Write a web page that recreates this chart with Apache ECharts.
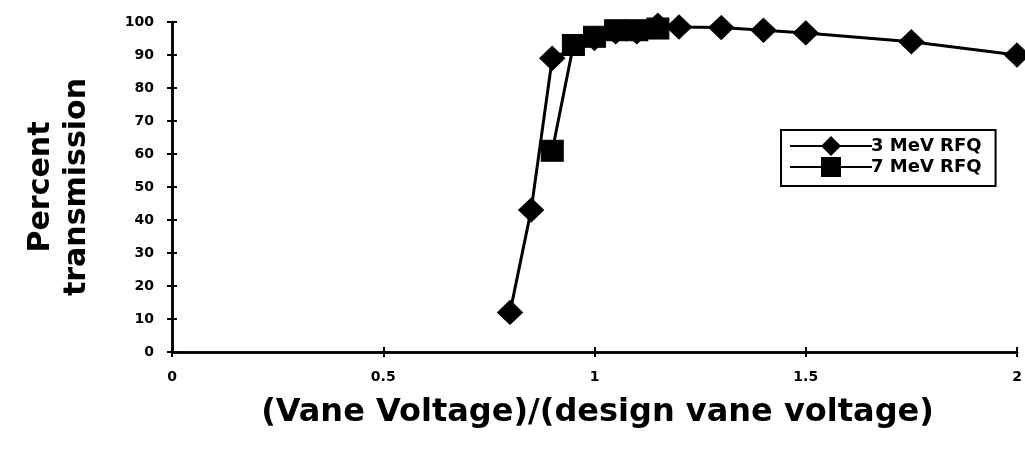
<!DOCTYPE html>
<html>
<head>
<meta charset="utf-8">
<script src="https://cdn.jsdelivr.net/npm/echarts@6/dist/echarts.min.js"></script>
<style>
  html, body { margin: 0; padding: 0; background: #fff; }
  #chart { width: 1025px; height: 450px; }
</style>
</head>
<body>
<div id="chart"></div>
<script>
// Transmission vs. normalized vane voltage for two RFQs
const rfq3Voltage = [0.80, 0.85, 0.90, 1.00, 1.05, 1.10, 1.15, 1.20, 1.30, 1.40, 1.50, 1.75, 2.00];
const rfq3Transmission = [12, 43, 89, 95, 97, 97, 99, 98.5, 98.3, 97.5, 96.7, 94, 90];
const rfq7Voltage = [0.90, 0.95, 1.00, 1.05, 1.10, 1.15];
const rfq7Transmission = [61, 93, 95.5, 97.5, 97.5, 98];
const seriesNames = ['3 MeV RFQ', '7 MeV RFQ'];
const xTicks = [0, 0.5, 1, 1.5, 2];
const yTicks = [0, 10, 20, 30, 40, 50, 60, 70, 80, 90, 100];

const font = '"DejaVu Sans", Verdana, sans-serif';
const ink = '#000';

function pairs(xs, ys) { return xs.map((x, i) => [x, ys[i]]); }

const chart = echarts.init(document.getElementById('chart'), null, { renderer: 'canvas' });

const baseX = {
  type: 'value', min: xTicks[0], max: xTicks[xTicks.length - 1], interval: 0.5,
  splitLine: { show: false },
  axisLine: { show: true, onZero: false, lineStyle: { color: ink, width: 2.5 } }
};
const baseY = {
  type: 'value', min: yTicks[0], max: yTicks[yTicks.length - 1], interval: 10,
  splitLine: { show: false },
  axisLine: { show: true, onZero: false, lineStyle: { color: ink, width: 2.5 } }
};

chart.setOption({
  animation: false,
  backgroundColor: '#fff',
  grid: { left: 172, right: 8, top: 22, bottom: 98, containLabel: false },
  legend: {
    data: seriesNames,
    orient: 'vertical',
    left: 781, top: 130,
    itemWidth: 82, itemHeight: 25, itemGap: 1,
    padding: [6, 14, 9, 8],
    borderColor: ink, borderWidth: 2,
    lineStyle: { width: 2 },
    textStyle: { fontFamily: font, fontWeight: 'bold', fontSize: 18, color: ink, padding: [0, 0, 0, -6] }
  },
  xAxis: [
    Object.assign({}, baseX, {
      position: 'bottom',
      name: '(Vane Voltage)/(design vane voltage)',
      nameLocation: 'middle', nameGap: 45,
      nameTextStyle: { fontFamily: font, fontWeight: 'bold', fontSize: 32, color: ink, padding: [0, 0, 0, 6] },
      axisTick: { show: true, length: 5, lineStyle: { color: ink, width: 2 } },
      axisLabel: {
        fontFamily: font, fontWeight: 'bold', fontSize: 14, color: ink, margin: 18,
        formatter: v => String(v)
      }
    }),
    Object.assign({}, baseX, {
      position: 'bottom',
      axisTick: { show: true, inside: true, length: 5, lineStyle: { color: ink, width: 2 } },
      axisLabel: { show: false }
    })
  ],
  yAxis: [
    Object.assign({}, baseY, {
      position: 'left',
      name: 'Percent\ntransmission',
      nameLocation: 'middle', nameGap: 77, nameRotate: 90,
      nameTextStyle: { fontFamily: font, fontWeight: 'bold', fontSize: 30, color: ink, lineHeight: 36 },
      axisTick: { show: true, length: 5, lineStyle: { color: ink, width: 2 } },
      axisLabel: { fontFamily: font, fontWeight: 'bold', fontSize: 14, color: ink, margin: 18 }
    }),
    Object.assign({}, baseY, {
      position: 'left',
      axisTick: { show: true, inside: true, length: 5, lineStyle: { color: ink, width: 2 } },
      axisLabel: { show: false }
    })
  ],
  series: [
    {
      name: seriesNames[0], type: 'line',
      data: pairs(rfq3Voltage, rfq3Transmission),
      symbol: 'diamond', symbolSize: [25, 24],
      lineStyle: { color: ink, width: 3 },
      itemStyle: { color: ink, borderColor: ink },
      z: 3
    },
    {
      name: seriesNames[1], type: 'line',
      data: pairs(rfq7Voltage, rfq7Transmission),
      symbol: 'rect', symbolSize: [22, 21],
      lineStyle: { color: ink, width: 3 },
      itemStyle: { color: ink, borderColor: ink },
      z: 2
    }
  ]
});
</script>
</body>
</html>
